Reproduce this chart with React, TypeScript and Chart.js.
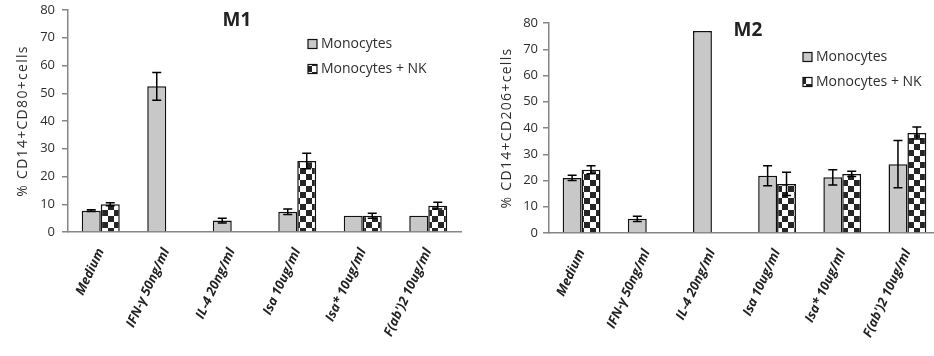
import React, { useEffect, useRef } from "react";
import { Chart, registerables } from "chart.js";

Chart.register(...registerables);

// ---------- data ----------
const categories = [
  "Medium",
  "IFN-γ 50ng/ml",
  "IL-4 20ng/ml",
  "Isa 10ug/ml",
  "Isa* 10ug/ml",
  "F(ab')2 10ug/ml",
];
const seriesNames = ["Monocytes", "Monocytes + NK"];
const yTicks = [0, 10, 20, 30, 40, 50, 60, 70, 80];

const m1Mono = [7.7, 52.5, 4.1, 7.3, 5.9, 5.9];
const m1MonoErr = [0.3, 5.0, 0.9, 1.0, 0, 0];
const m1Nk = [10.0, null, null, 25.6, 5.9, 9.5];
const m1NkErr = [0.5, 0, 0, 2.8, 0.9, 1.2];

const m2Mono = [21.0, 5.4, 77.0, 21.8, 21.2, 26.2];
const m2MonoErr = [1.0, 1.0, 0, 3.8, 2.9, 9.0];
const m2Nk = [24.1, null, null, 18.7, 22.5, 38.1];
const m2NkErr = [1.5, 0, 0, 4.4, 1.0, 2.3];

// ---------- styles ----------
const MONO_FILL = "#c8c8c8";
const EDGE = "#111111";
const AXIS = "#868686";
const TEXT = "#2e2e2e";
const FONT = "'Open Sans', Lato, sans-serif";

function makeChecker(): CanvasPattern | string {
  const c = document.createElement("canvas");
  const s = 6;
  c.width = s * 2;
  c.height = s * 2;
  const g = c.getContext("2d");
  if (!g) return "#444";
  g.fillStyle = "#ffffff";
  g.fillRect(0, 0, s * 2, s * 2);
  g.fillStyle = "#262626";
  g.fillRect(0, 0, s, s);
  g.fillRect(s, s, s, s);
  const p = g.createPattern(c, "repeat");
  return p || "#444";
}

const errorBarPlugin = {
  id: "errorBars",
  afterDatasetsDraw(chart: any, _args: any, opts: any) {
    const errs: number[][] = opts.errors || [];
    const ctx = chart.ctx;
    const yScale = chart.scales.y;
    ctx.save();
    ctx.strokeStyle = "#000";
    ctx.lineWidth = 1.5;
    chart.data.datasets.forEach((ds: any, i: number) => {
      const meta = chart.getDatasetMeta(i);
      meta.data.forEach((el: any, j: number) => {
        const v = ds.data[j];
        const e = errs[i] ? errs[i][j] : 0;
        if (v == null || !e) return;
        const x = el.x;
        const yt = yScale.getPixelForValue(v + e);
        const yb = yScale.getPixelForValue(v - e);
        const cap = 4.5;
        ctx.beginPath();
        ctx.moveTo(x, yt);
        ctx.lineTo(x, yb);
        ctx.moveTo(x - cap, yt);
        ctx.lineTo(x + cap, yt);
        ctx.moveTo(x - cap, yb);
        ctx.lineTo(x + cap, yb);
        ctx.stroke();
      });
    });
    ctx.restore();
  },
};

const overlayPlugin = {
  id: "overlay",
  afterDraw(chart: any, _args: any, opts: any) {
    const ctx = chart.ctx;
    const area = chart.chartArea;
    ctx.save();
    // panel title
    ctx.fillStyle = "#222";
    ctx.font = `bold 19px ${FONT}`;
    ctx.textAlign = "center";
    ctx.textBaseline = "middle";
    ctx.fillText(opts.title, opts.titleX, opts.titleY);
    // y-axis title
    ctx.save();
    ctx.translate(opts.yTitleX, (area.top + area.bottom) / 2);
    ctx.rotate(-Math.PI / 2);
    ctx.font = `14px ${FONT}`;
    ctx.fillStyle = TEXT;
    (ctx as any).letterSpacing = "1.3px";
    ctx.fillText(opts.yTitle, 0, 0);
    ctx.restore();
    // legend
    ctx.font = `14px ${FONT}`;
    ctx.textAlign = "left";
    chart.data.datasets.forEach((ds: any, i: number) => {
      const y = opts.legendY + i * opts.rowGap;
      const bx = opts.legendX;
      ctx.fillStyle = ds.backgroundColor;
      ctx.fillRect(bx, y - 4.5, 9, 9);
      ctx.strokeStyle = EDGE;
      ctx.lineWidth = 1.2;
      ctx.strokeRect(bx, y - 4.5, 9, 9);
      ctx.fillStyle = TEXT;
      ctx.fillText(ds.label, bx + 13, y + 0.5);
    });
    ctx.restore();
  },
};

type PanelProps = {
  left: number;
  width: number;
  title: string;
  titleX: number;
  titleY: number;
  legendX: number;
  legendY: number;
  rowGap: number;
  yTitle: string;
  yTitleX: number;
  yAxisWidth: number;
  yTickPad: number;
  padTop: number;
  padRight: number;
  xAxisHeight: number;
  mono: (number | null)[];
  monoErr: number[];
  nk: (number | null)[];
  nkErr: number[];
};

function Panel(p: PanelProps) {
  const ref = useRef<HTMLCanvasElement | null>(null);
  useEffect(() => {
    if (!ref.current) return;
    const checker = makeChecker();
    const chart = new Chart(ref.current, {
      type: "bar",
      data: {
        labels: categories,
        datasets: [
          {
            label: seriesNames[0],
            data: p.mono,
            backgroundColor: MONO_FILL,
            borderColor: EDGE,
            borderWidth: 1.5,
            borderSkipped: "start",
          },
          {
            label: seriesNames[1],
            data: p.nk,
            backgroundColor: checker as any,
            borderColor: EDGE,
            borderWidth: 1.5,
            borderSkipped: "start",
          },
        ],
      },
      options: {
        responsive: false,
        animation: false,
        devicePixelRatio: 1,
        layout: { padding: { top: p.padTop, right: p.padRight, left: 0, bottom: 0 } },
        datasets: { bar: { barPercentage: 1.0, categoryPercentage: 0.58 } },
        plugins: {
          legend: { display: false },
          tooltip: { enabled: false },
          errorBars: { errors: [p.monoErr, p.nkErr] },
          overlay: {
            title: p.title,
            titleX: p.titleX,
            titleY: p.titleY,
            legendX: p.legendX,
            legendY: p.legendY,
            rowGap: p.rowGap,
            yTitle: p.yTitle,
            yTitleX: p.yTitleX,
          },
        } as any,
        scales: {
          x: {
            type: "category",
            offset: true,
            grid: { display: false, drawTicks: false },
            border: { display: true, color: AXIS, width: 1.5 },
            ticks: {
              autoSkip: false,
              minRotation: 65,
              maxRotation: 65,
              padding: 14,
              color: "#222",
              font: { family: FONT, size: 13, weight: "bold", style: "italic" },
            },
            afterFit: (s: any) => {
              s.height = p.xAxisHeight;
              s.paddingLeft = 0;
              s.paddingRight = 0;
            },
          },
          y: {
            min: 0,
            max: 80,
            afterBuildTicks: (s: any) => {
              s.ticks = yTicks.map((v) => ({ value: v }));
            },
            grid: { drawOnChartArea: false, drawTicks: true, tickLength: 6, color: AXIS, lineWidth: 1.5 },
            border: { display: true, color: AXIS, width: 1.5 },
            ticks: {
              padding: p.yTickPad,
              color: TEXT,
              font: { family: FONT, size: 13 },
            },
            afterFit: (s: any) => {
              s.width = p.yAxisWidth;
              s.paddingTop = 0;
              s.paddingBottom = 0;
            },
          },
        },
      },
      plugins: [errorBarPlugin as any, overlayPlugin as any],
    });
    return () => chart.destroy();
  }, []);
  return (
    <canvas
      ref={ref}
      width={p.width}
      height={356}
      style={{ position: "absolute", left: p.left, top: 0, width: p.width, height: 356 }}
    />
  );
}

export default function App() {
  return (
    <div
      style={{
        position: "fixed",
        left: 0,
        top: 0,
        width: 934,
        height: 356,
        overflow: "hidden",
        background: "#ffffff",
      }}
    >
      <Panel
        left={0}
        width={470}
        title="M1"
        titleX={237}
        titleY={21}
        legendX={308}
        legendY={44}
        rowGap={25}
        yTitle="% CD14+CD80+cells"
        yTitleX={23}
        yAxisWidth={68}
        yTickPad={7}
        padTop={10}
        padRight={9}
        xAxisHeight={124}
        mono={m1Mono}
        monoErr={m1MonoErr}
        nk={m1Nk}
        nkErr={m1NkErr}
      />
      <Panel
        left={470}
        width={480}
        title="M2"
        titleX={278}
        titleY={31}
        legendX={333}
        legendY={57}
        rowGap={25}
        yTitle="% CD14+CD206+cells"
        yTitleX={37}
        yAxisWidth={79}
        yTickPad={5}
        padTop={23}
        padRight={10}
        xAxisHeight={123}
        mono={m2Mono}
        monoErr={m2MonoErr}
        nk={m2Nk}
        nkErr={m2NkErr}
      />
    </div>
  );
}
